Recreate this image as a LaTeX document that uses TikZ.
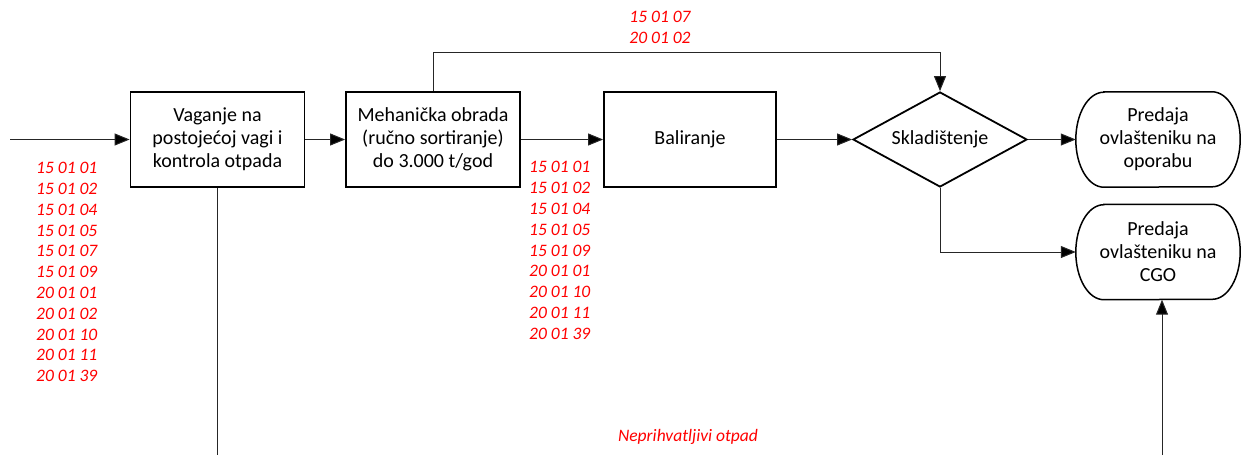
\documentclass[tikz,border=0pt]{standalone}
\usepackage{fontspec}
\setmainfont{Carlito}
\usetikzlibrary{shapes.geometric,arrows.meta}
\begin{document}
\begin{tikzpicture}[x=1pt,y=-1pt,
  boxfont/.style={font=\fontsize{20}{23}\selectfont},
  proc/.style={draw,line width=1.8pt,minimum width=174pt,minimum height=95pt,inner sep=0pt,
    align=center,boxfont},
  decide/.style={draw,line width=1.8pt,diamond,minimum width=174pt,minimum height=95pt,inner sep=0pt,
    aspect=1.83,boxfont},
  term/.style={minimum width=164pt,minimum height=95pt,inner sep=0pt,align=center,boxfont},
  termline/.style={line width=1.5pt},
  codes/.style={inner sep=0pt,align=left,text=red,font=\fontsize{17.5}{20.8}\selectfont\itshape},
  flow/.style={line width=1pt,draw=black!85,-{Triangle[length=15pt,width=12pt,fill=black]}},
  plain/.style={line width=1pt,draw=black!85}]
\useasboundingbox (0,0) rectangle (1241,455);

\node[proc] (vag) at (217.5,139.5) {Vaganje na\\postojećoj vagi i\\kontrola otpada};
\node[proc] (meh) at (433,139.5) {Mehanička obrada\\(ručno sortiranje)\\do 3.000 t/god};
\node[proc,minimum width=172pt] (bal) at (690,139.5) {Baliranje};
\node[decide] (skl) at (940,139.5) {Skladištenje};
\node[term] (opo) at (1158,139.5) {Predaja\\ovlašteniku na\\oporabu};
\node[term] (cgo) at (1158,252) {Predaja\\ovlašteniku na\\CGO};

% terminator outlines with elliptical ends
\foreach \t in {opo,cgo}{
  \draw[termline] ([xshift=28pt]\t.north west) -- ([xshift=-28pt]\t.north east)
    arc[start angle=90,end angle=-90,x radius=28pt,y radius=47.5pt]
    -- ([xshift=28pt]\t.south west)
    arc[start angle=270,end angle=90,x radius=28pt,y radius=47.5pt] -- cycle;
}

\coordinate (in) at (10,139.5);
\coordinate (topL) at (433,52);
\coordinate (topR) at (940,52);
\coordinate (low) at (940,252);
\coordinate (rejA) at (217.5,455);
\coordinate (rejB) at (1162,455);

\draw[flow] (in) -- (vag.west);
\draw[flow] (vag.east) -- (meh.west);
\draw[flow] (meh.east) -- (bal.west);
\draw[flow] (bal.east) -- (skl.west);
\draw[flow] (skl.east) -- (opo.west);
\draw[flow] (meh.north) -- (topL) -- (topR) -- (skl.north);
\draw[flow] (skl.south) -- (low) -- (cgo.west);
\draw[plain] (vag.south) -- (rejA);
\draw[flow] (rejB) -- (rejB |- cgo.south);

\node[codes,anchor=west] (c1) at (36,272) {15 01 01\\15 01 02\\15 01 04\\15 01 05\\15 01 07\\15 01 09\\20 01 01\\20 01 02\\20 01 10\\20 01 11\\20 01 39};
\node[codes,anchor=west] (c2) at (529,250.5) {15 01 01\\15 01 02\\15 01 04\\15 01 05\\15 01 09\\20 01 01\\20 01 10\\20 01 11\\20 01 39};
\node[codes] (c3) at (660,27.5) {15 01 07\\20 01 02};
\node[codes] (rej) at (688,437) {Neprihvatljivi otpad};
\end{tikzpicture}
\end{document}
